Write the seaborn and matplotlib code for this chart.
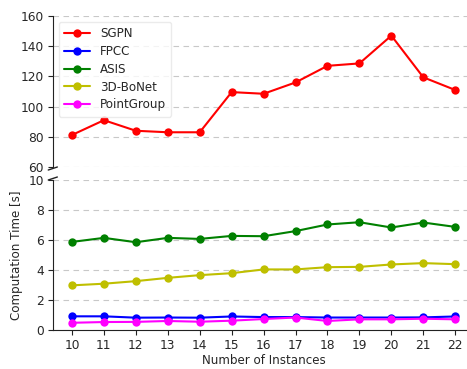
import matplotlib
matplotlib.use("Agg")
import matplotlib.pyplot as plt
import seaborn as sns
import pandas as pd

instances = [10, 11, 12, 13, 14, 15, 16, 17, 18, 19, 20, 21, 22]
sgpn = [81.2, 91, 84, 83, 83, 109.6, 108.5, 116, 127, 128.6, 147, 119.4, 111]
fpcc = [0.93, 0.93, 0.84, 0.85, 0.84, 0.92, 0.88, 0.88, 0.85, 0.85, 0.85, 0.86, 0.92]
asis = [5.88, 6.15, 5.86, 6.15, 6.08, 6.28, 6.26, 6.6, 7.04, 7.19, 6.84, 7.17, 6.88]
bonet = [2.99, 3.1, 3.27, 3.49, 3.67, 3.8, 4.05, 4.05, 4.2, 4.22, 4.38, 4.47, 4.4]
pointgroup = [0.5, 0.55, 0.56, 0.62, 0.57, 0.64, 0.75, 0.85, 0.62, 0.73, 0.73, 0.77, 0.73]

methods = ["SGPN", "FPCC", "ASIS", "3D-BoNet", "PointGroup"]
series = [sgpn, fpcc, asis, bonet, pointgroup]
colors = ["#ff0000", "#0000ff", "#008000", "#bfbf00", "#ff00ff"]

rows = []
for m, vals in zip(methods, series):
    for x, v in zip(instances, vals):
        rows.append({"Number of Instances": x, "Time": v, "Method": m})
df = pd.DataFrame(rows)

sns.set_style("white")
plt.rcParams["font.family"] = ["DejaVu Sans"]
plt.rcParams["font.size"] = 8.6

fig = plt.figure(figsize=(4.67, 3.69), dpi=100)
W, H = 467, 369
left = 52.8 / W
width = (474.4 - 52.8) / W
ax_top = fig.add_axes([left, (H - 167) / H, width, 151 / H])
ax_bot = fig.add_axes([left, (H - 330.3) / H, width, 150.3 / H])

palette = dict(zip(methods, colors))
for ax, leg in ((ax_top, True), (ax_bot, False)):
    sns.lineplot(data=df, x="Number of Instances", y="Time", hue="Method",
                 hue_order=methods, palette=palette, marker="o", markersize=6,
                 markeredgewidth=0, linewidth=1.5, ax=ax, legend=leg)
    ax.yaxis.grid(True, linestyle=(0, (5, 4)), color="#c8c8c8", linewidth=0.8)
    ax.xaxis.grid(False)
    ax.set_xlim(9.4, 22.6)
    ax.tick_params(axis="both", labelsize=8.8, length=3.5, width=0.8,
                   color="#222222", direction="out", left=True, bottom=True,
                   pad=3)
    for s in ("top", "right"):
        ax.spines[s].set_visible(False)
    ax.spines["left"].set_color("#222222")
    ax.spines["bottom"].set_color("#222222")

ax_top.set_ylim(60, 160)
ax_top.set_yticks([60, 80, 100, 120, 140, 160])
ax_top.spines["bottom"].set_visible(False)
ax_top.tick_params(axis="x", bottom=False, labelbottom=False)
ax_top.set_xlabel("")
ax_top.set_ylabel("")

ax_bot.set_ylim(0, 10)
ax_bot.set_yticks([0, 2, 4, 6, 8, 10])
ax_bot.set_xticks(instances)
ax_bot.set_xlabel("Number of Instances", fontsize=8.6, labelpad=1)
ax_bot.set_ylabel("Computation Time [s]", fontsize=8.6, labelpad=4)

leg = ax_top.legend(loc="upper left", fontsize=8.6, frameon=True,
                    handlelength=2.2, borderpad=0.45, labelspacing=0.4)
leg.get_frame().set_edgecolor("#e6e6e6")

# break marks
d = 0.012
kw = dict(color="#222222", linewidth=1.0, clip_on=False)
ax_top.plot([-d * 0.9, d * 0.9], [-0.02, 0.0], transform=ax_top.transAxes, **kw)
ax_bot.plot([-d * 0.9, d * 0.9], [1.0, 1.02], transform=ax_bot.transAxes, **kw)

fig.savefig("out.png", dpi=100)
